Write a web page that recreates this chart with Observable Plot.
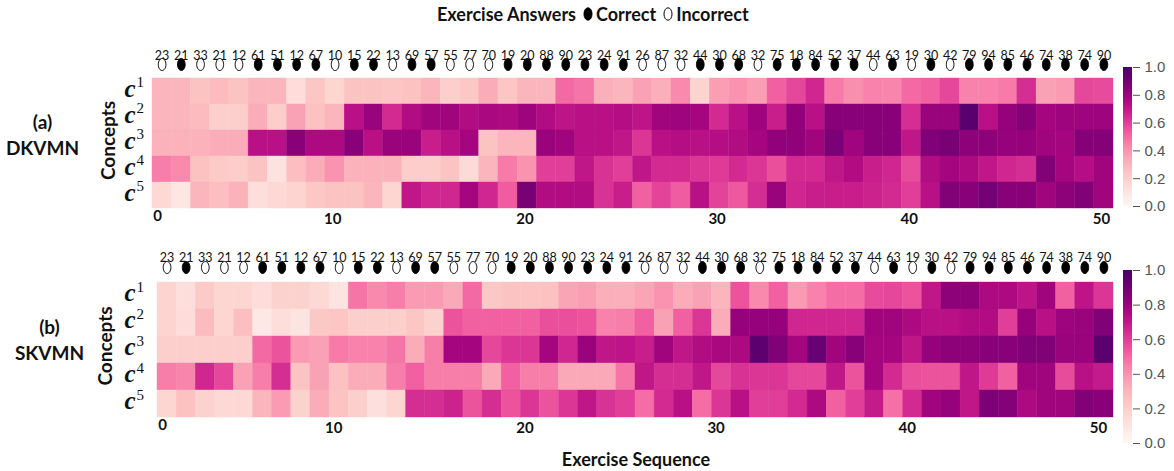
<!DOCTYPE html>
<html><head><meta charset="utf-8">
<script src="https://cdn.jsdelivr.net/npm/d3@7"></script>
<script src="https://cdn.jsdelivr.net/npm/@observablehq/plot@0.6"></script>
<style>
body{margin:0;background:#fff;}
#root{position:relative;width:1174px;height:471px;overflow:hidden;font-family:Lato,sans-serif;color:#111;}
.abs{position:absolute;}
</style></head><body><div id="root"></div>
<script>
// ---------- data ----------
const concepts = ["c1","c2","c3","c4","c5"];
const exerciseIds = [23,21,33,21,12,61,51,12,67,10,15,22,13,69,57,55,77,70,19,20,88,90,23,24,91,26,87,32,44,30,68,32,75,18,84,52,37,44,63,19,30,42,79,94,85,46,74,38,74,90];
const answers = [0,1,0,0,0,1,1,1,1,0,1,1,0,1,1,0,0,0,1,1,1,1,1,1,1,0,0,0,1,1,1,0,1,1,1,1,1,0,1,0,1,0,1,1,1,1,1,1,1,1];
const xTicks = [0,10,20,30,40,50];
const colorTicks = [0,0.2,0.4,0.6,0.8,1.0];

const dkvmnC1 = [0.30,0.30,0.25,0.28,0.25,0.30,0.30,0.14,0.24,0.17,0.25,0.25,0.24,0.26,0.30,0.20,0.23,0.33,0.24,0.30,0.30,0.50,0.47,0.32,0.30,
                 0.36,0.32,0.42,0.18,0.37,0.40,0.37,0.52,0.58,0.66,0.46,0.41,0.44,0.43,0.50,0.52,0.58,0.44,0.44,0.46,0.64,0.36,0.38,0.58,0.57];
const dkvmnC2 = [0.30,0.30,0.28,0.20,0.20,0.33,0.21,0.36,0.26,0.30,0.72,0.80,0.65,0.74,0.78,0.78,0.74,0.76,0.75,0.79,0.74,0.71,0.72,0.72,0.73,
                 0.71,0.78,0.79,0.77,0.65,0.72,0.79,0.68,0.82,0.72,0.84,0.84,0.84,0.84,0.64,0.80,0.80,0.96,0.72,0.81,0.85,0.77,0.79,0.79,0.79];
const dkvmnC3 = [0.31,0.31,0.31,0.33,0.33,0.72,0.72,0.84,0.75,0.75,0.84,0.72,0.80,0.80,0.68,0.72,0.77,0.25,0.30,0.30,0.80,0.78,0.72,0.72,0.70,
                 0.62,0.72,0.73,0.72,0.73,0.74,0.77,0.82,0.82,0.78,0.875,0.78,0.84,0.84,0.70,0.86,0.88,0.83,0.83,0.81,0.81,0.78,0.77,0.85,0.85];
const dkvmnC4 = [0.45,0.42,0.26,0.22,0.21,0.25,0.11,0.27,0.33,0.40,0.31,0.31,0.31,0.21,0.21,0.25,0.15,0.30,0.46,0.40,0.60,0.60,0.70,0.63,0.60,
                 0.70,0.65,0.65,0.62,0.61,0.65,0.62,0.56,0.65,0.65,0.70,0.74,0.68,0.66,0.57,0.74,0.77,0.75,0.70,0.66,0.64,0.86,0.77,0.73,0.78];
const dkvmnC5 = [0.16,0.09,0.30,0.27,0.31,0.13,0.16,0.18,0.23,0.25,0.25,0.30,0.17,0.70,0.66,0.66,0.77,0.66,0.53,0.88,0.74,0.74,0.74,0.63,0.68,
                 0.52,0.59,0.53,0.72,0.59,0.54,0.64,0.80,0.66,0.68,0.68,0.68,0.67,0.65,0.60,0.72,0.86,0.84,0.89,0.84,0.84,0.78,0.83,0.86,0.78];

const skvmnC1 = [0.18,0.13,0.22,0.17,0.17,0.14,0.19,0.19,0.16,0.10,0.47,0.42,0.45,0.38,0.38,0.34,0.50,0.23,0.25,0.25,0.26,0.35,0.37,0.32,0.32,
                 0.35,0.40,0.33,0.36,0.30,0.55,0.42,0.52,0.38,0.44,0.49,0.49,0.57,0.58,0.55,0.70,0.83,0.83,0.75,0.75,0.71,0.78,0.52,0.71,0.62];
const skvmnC2 = [0.18,0.14,0.28,0.17,0.27,0.08,0.13,0.10,0.23,0.24,0.20,0.20,0.20,0.24,0.19,0.55,0.52,0.52,0.52,0.52,0.56,0.56,0.55,0.44,0.45,
                 0.52,0.36,0.52,0.62,0.33,0.81,0.81,0.81,0.66,0.66,0.66,0.66,0.78,0.78,0.75,0.72,0.72,0.74,0.74,0.60,0.81,0.72,0.79,0.80,0.86];
const skvmnC3 = [0.20,0.20,0.20,0.20,0.20,0.50,0.55,0.38,0.36,0.46,0.44,0.44,0.47,0.33,0.45,0.77,0.77,0.58,0.62,0.62,0.77,0.66,0.80,0.70,0.71,
                 0.68,0.78,0.70,0.74,0.76,0.75,0.95,0.86,0.77,0.92,0.78,0.84,0.77,0.77,0.70,0.81,0.83,0.83,0.84,0.84,0.86,0.86,0.80,0.80,0.96];
const skvmnC4 = [0.45,0.43,0.66,0.58,0.36,0.45,0.64,0.25,0.36,0.26,0.33,0.33,0.45,0.52,0.45,0.45,0.45,0.34,0.52,0.45,0.45,0.34,0.34,0.34,0.47,
                 0.70,0.64,0.64,0.70,0.58,0.63,0.62,0.62,0.58,0.58,0.70,0.55,0.77,0.65,0.56,0.55,0.55,0.70,0.61,0.52,0.78,0.78,0.57,0.72,0.69];
const skvmnC5 = [0.17,0.26,0.19,0.16,0.16,0.30,0.38,0.19,0.33,0.25,0.20,0.12,0.17,0.64,0.64,0.67,0.55,0.64,0.55,0.62,0.55,0.62,0.70,0.63,0.60,
                 0.49,0.65,0.72,0.49,0.62,0.72,0.60,0.60,0.65,0.75,0.52,0.60,0.69,0.48,0.65,0.78,0.81,0.70,0.87,0.85,0.75,0.78,0.78,0.86,0.84];

// ---------- helpers ----------
const root = document.getElementById("root");
function place(el, left, top) {
  el.classList.add("abs");
  el.style.left = left + "px";
  el.style.top = top + "px";
  root.appendChild(el);
}

const ellipseSymbol = {
  draw(ctx, size) {
    const r = Math.sqrt(size / Math.PI);
    const rx = r * 0.64, ry = r, k = 0.5523;
    ctx.moveTo(rx, 0);
    ctx.bezierCurveTo(rx, k * ry, k * rx, ry, 0, ry);
    ctx.bezierCurveTo(-k * rx, ry, -rx, k * ry, -rx, 0);
    ctx.bezierCurveTo(-rx, -k * ry, -k * rx, -ry, 0, -ry);
    ctx.bezierCurveTo(k * rx, -ry, rx, -k * ry, rx, 0);
    ctx.closePath();
  }
};

const colorScale = {type: "linear", scheme: "RdPu", domain: [0, 1]};

function panel(o) {
  const cells = [];
  concepts.forEach((c, r) => o.rows[r].forEach((v, i) => cells.push({concept: c, i, v})));
  const seq = exerciseIds.map((id, i) => ({i, id, correct: answers[i]}));
  const cx = d => d.i + 0.5;
  return Plot.plot({
    width: 1174, height: o.height,
    marginTop: o.marginTop, marginBottom: o.marginBottom, marginLeft: o.marginLeft, marginRight: 61,
    style: {fontFamily: "Lato", background: "white", color: "#111", overflow: "visible"},
    x: {domain: [0, 50], axis: null},
    y: {domain: concepts, axis: null, padding: 0},
    color: colorScale,
    marks: [
      Plot.barX(cells, {x1: "i", x2: d => d.i + 1, y: "concept", fill: "v", stroke: "v", strokeWidth: 0.4, inset: 0}),
      // exercise ids
      Plot.text(seq, {x: cx, text: "id", frameAnchor: "top", dy: o.idDy, fontSize: 12.5, fill: "#111"}),
      // answers
      Plot.dot(seq.filter(d => d.correct), {x: cx, frameAnchor: "top", dy: -13, r: 6, symbol: ellipseSymbol, fill: "#000", stroke: "#000", strokeWidth: 1}),
      Plot.dot(seq.filter(d => !d.correct), {x: cx, frameAnchor: "top", dy: -13, r: 6, symbol: ellipseSymbol, fill: "white", stroke: "#000", strokeWidth: 1}),
      // row labels c^k
      Plot.text(concepts, {y: d => d, text: () => "c", frameAnchor: "left", textAnchor: "start", dx: o.cDx, dy: -3,
        fontFamily: "Liberation Serif", fontStyle: "italic", fontWeight: "bold", fontSize: 25, fill: "#111"}),
      Plot.text(concepts, {y: d => d, text: d => d.slice(1), frameAnchor: "left", textAnchor: "start", dx: o.cDx + 12, dy: -9,
        fontFamily: "Liberation Serif", fontSize: 15, fill: "#111"}),
      // Concepts axis title
      Plot.text(["Concepts"], {text: d => d, frameAnchor: "left", textAnchor: "middle", rotate: -90, dx: o.conceptsDx, dy: o.conceptsDy,
        fontWeight: "bold", fontSize: 19, fill: "#111"}),
      // model labels
      Plot.text([o.tag], {text: d => d, frameAnchor: "left", textAnchor: "middle", dx: o.tagDx, dy: o.tagDy, fontWeight: "bold", fontSize: 19, fill: "#111"}),
      Plot.text([o.model], {text: d => d, frameAnchor: "left", textAnchor: "middle", dx: o.tagDx, dy: o.modelDy, fontWeight: "bold", fontSize: 19, fill: "#111"}),
      // x tick labels
      Plot.text(xTicks.slice(0, 1), {x: d => d, text: d => String(d), frameAnchor: "bottom", dx: 5, dy: o.zeroDy, fontWeight: "bold", fontSize: 15, fill: "#111"}),
      Plot.text(xTicks.slice(1), {x: d => d, text: d => String(d), frameAnchor: "bottom", dx: o.tickDx, dy: o.tickDy, fontWeight: "bold", fontSize: 15, fill: "#111"})
    ]
  });
}

function colorbar(id, barH) {
  const svg = Plot.plot({
    width: 62, height: barH + 16, marginTop: 8, marginBottom: 8, marginLeft: 0, marginRight: 53,
    style: {fontFamily: "Liberation Sans", background: "transparent", overflow: "visible"},
    x: {domain: [0, 1], axis: null},
    y: {domain: [0, 1], axis: null},
    marks: [
      Plot.rect([0], {x1: 0, x2: 1, y1: 0, y2: 1, fill: `url(#${id})`}),
      Plot.axisY({anchor: "right", ticks: colorTicks, tickFormat: d => d.toFixed(1), tickSize: 7, tickPadding: 5,
        fontSize: 15, color: "#555", label: null})
    ]
  });
  const defs = d3.select(svg).insert("defs", ":first-child");
  const g = defs.append("linearGradient").attr("id", id).attr("x1", 0).attr("y1", 1).attr("x2", 0).attr("y2", 0);
  d3.range(0, 1.0001, 0.05).forEach(t => g.append("stop").attr("offset", t).attr("stop-color", d3.interpolateRdPu(t)));
  return svg;
}

// ---------- top legend ----------
const legend = document.createElement("div");
legend.style.cssText = "font-family:Lato;font-weight:bold;font-size:18px;white-space:nowrap;display:flex;align-items:center;gap:0px;";
const ell = filled => `<svg width="14" height="16" style="margin:0 1px 0 5px"><ellipse cx="7" cy="8" rx="4" ry="6.2" fill="${filled ? "#000" : "#fff"}" stroke="#000" stroke-width="1"/></svg>`;
legend.innerHTML = `<span>Exercise Answers</span>${ell(true)}<span>Correct</span>${ell(false)}<span>Incorrect</span>`;
place(legend, 437, 3);

// ---------- panels ----------
const pa = panel({rows: [dkvmnC1, dkvmnC2, dkvmnC3, dkvmnC4, dkvmnC5], height: 202, marginTop: 47, marginBottom: 23, marginLeft: 152,
  idDy: -26, cDx: -28, conceptsDx: -44, conceptsDy: -3, tag: "(a)", model: "DKVMN", tagDx: -110, tagDy: -21, modelDy: 5,
  zeroDy: 11, tickDx: -12, tickDy: 14});
place(pa, 0, 30);

const pb = panel({rows: [skvmnC1, skvmnC2, skvmnC3, skvmnC4, skvmnC5], height: 208, marginTop: 48, marginBottom: 21, marginLeft: 157,
  idDy: -27, cDx: -33, conceptsDx: -52, conceptsDy: -4, tag: "(b)", model: "SKVMN", tagDx: -108, tagDy: -22, modelDy: 4,
  zeroDy: 10, tickDx: -15, tickDy: 13});
place(pb, 0, 232);

// ---------- colorbars ----------
place(colorbar("rdpuA", 139), 1123, 59);
place(colorbar("rdpuB", 173), 1123, 262);

// ---------- bottom title ----------
const xt = document.createElement("div");
xt.style.cssText = "font-family:Lato;font-weight:bold;font-size:18px;width:300px;text-align:center;";
xt.textContent = "Exercise Sequence";
place(xt, 486, 448);
</script></body></html>
